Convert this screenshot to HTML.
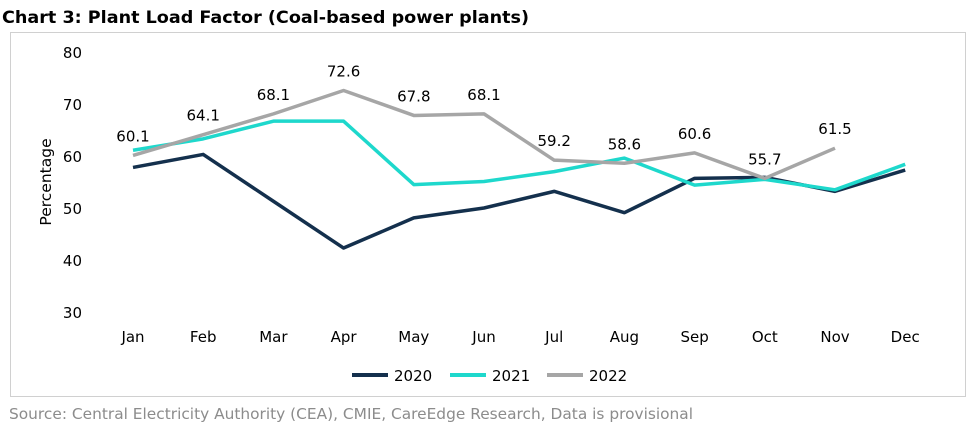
<!DOCTYPE html>
<html><head><meta charset="utf-8"><style>
body{margin:0;width:976px;height:427px;background:#fff;font-family:"DejaVu Sans",sans-serif;overflow:hidden}
</style></head><body>
<svg width="976" height="427" xmlns="http://www.w3.org/2000/svg" font-family="DejaVu Sans, sans-serif">
<text x="2" y="23" font-size="16.5" font-weight="bold" fill="#000" textLength="527" lengthAdjust="spacingAndGlyphs">Chart 3: Plant Load Factor (Coal-based power plants)</text>
<rect x="10.5" y="32.5" width="955" height="364" fill="none" stroke="#d0d0d0"/>
<g id="yaxis"></g><g id="xaxis"></g><g id="series"></g><g id="labels"></g>
<text transform="translate(51,182) rotate(-90)" text-anchor="middle" font-size="15.5" fill="#000">Percentage</text>
<g font-size="15" fill="#000">
<line x1="352" y1="375" x2="388" y2="375" stroke="#14304d" stroke-width="4"/><text x="394" y="381">2020</text>
<line x1="450" y1="375" x2="486" y2="375" stroke="#1ed8cc" stroke-width="4"/><text x="492" y="381">2021</text>
<line x1="547" y1="375" x2="583" y2="375" stroke="#a6a6a6" stroke-width="4"/><text x="589" y="381">2022</text>
</g>
<text x="9" y="419" font-size="15" fill="#8c8c8c" textLength="684" lengthAdjust="spacingAndGlyphs">Source: Central Electricity Authority (CEA), CMIE, CareEdge Research, Data is provisional</text>
</svg>
<script>
const months=["Jan","Feb","Mar","Apr","May","Jun","Jul","Aug","Sep","Oct","Nov","Dec"];
const yTicks=[30,40,50,60,70,80];
const s2020=[57.8,60.3,51.3,42.3,48.1,50.0,53.2,49.1,55.7,55.9,53.2,57.3];
const s2021=[61.1,63.3,66.7,66.7,54.5,55.1,57.0,59.6,54.4,55.5,53.5,58.4];
const s2022=[60.1,64.1,68.1,72.6,67.8,68.1,59.2,58.6,60.6,55.7,61.5];
const ns="http://www.w3.org/2000/svg";
function y(v){return 312-(v-30)*5.2;}
function x(i){return 133+i*70.2;}
function mk(tag,attrs,parent,txt){const e=document.createElementNS(ns,tag);for(const k in attrs)e.setAttribute(k,attrs[k]);if(txt!==undefined)e.textContent=txt;parent.appendChild(e);return e;}
const ya=document.getElementById('yaxis');
yTicks.forEach(t=>{const e=mk('text',{x:82,y:y(t)+6,'text-anchor':'end','font-size':15,fill:'#000'},ya,t);

});
const xa=document.getElementById('xaxis');
months.forEach((m,i)=>{const e=mk('text',{x:x(i),y:342,'text-anchor':'middle','font-size':15,fill:'#000'},xa,m);

});
const sg=document.getElementById('series');
[[s2020,'#14304d','line-2020'],[s2021,'#1ed8cc','line-2021'],[s2022,'#a6a6a6','line-2022']].forEach(([d,c,n])=>{
const p=mk('polyline',{points:d.map((v,i)=>x(i)+','+y(v)).join(' '),fill:'none',stroke:c,'stroke-width':3.5,'stroke-linejoin':'round'},sg);

});
const lg=document.getElementById('labels');
s2022.forEach((v,i)=>{const e=mk('text',{x:x(i),y:y(v)-14,'text-anchor':'middle','font-size':15,fill:'#000'},lg,v.toFixed(1));

});
</script>
</body></html>
